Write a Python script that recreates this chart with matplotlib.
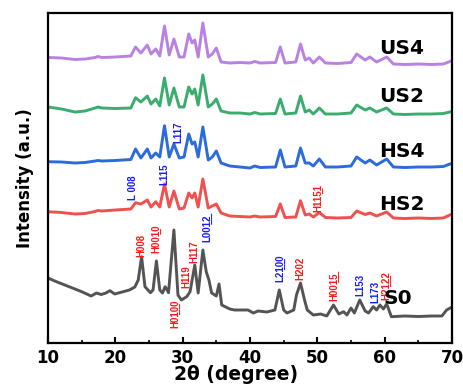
import matplotlib
matplotlib.use("Agg")
import matplotlib.pyplot as plt
from matplotlib.ticker import MultipleLocator

U = "\u0332"  # combining low line (underline of preceding character)

# ---------------- data (2theta in degree, intensity in a.u.) ----------------
theta_us = [10, 12, 14, 15.5, 17, 17.4, 18, 20, 22.3, 23.0, 23.8, 24.75, 25.3, 26.0, 26.6,
            27.3, 28.0, 28.7, 29.5, 30.2, 30.9, 31.4, 31.8, 32.3, 33.0, 33.8, 34.4, 35.0,
            35.7, 37.0, 38.5, 40.0, 40.7, 41.5, 43.8, 44.5, 45.2, 46.8, 47.5, 48.2, 48.8,
            49.4, 50.3, 51.2, 53.0, 55.0, 55.85, 57.1, 57.8, 58.8, 60.3, 61.3, 63.0, 65.0,
            67.0, 68.7, 69.7]

int_us4 = [285.5, 285, 283.5, 284, 285.5, 286.5, 285.5, 286, 287, 296, 290, 298, 289, 294,
           287, 317, 288, 304, 286, 286, 309, 300, 303, 286, 320, 286, 289, 295, 281, 280,
           280.5, 280, 281.5, 280, 280.5, 296, 280, 281, 299, 283, 285, 280, 286, 280,
           279.5, 280.5, 289, 283, 286, 281, 286, 279, 278.5, 279, 278.5, 279, 281.5]

int_us2 = [236, 234, 231, 232, 235, 236, 235, 234.5, 235, 245.3, 241, 247, 239, 244, 237,
           265, 238, 255, 236, 236, 256, 249, 254, 238, 268, 236, 239, 244, 232, 230, 230,
           229, 230.5, 229, 229.5, 244, 229, 230, 247, 231, 233, 229, 235, 229, 229, 230,
           238, 233, 235, 231, 235, 229, 228.5, 229, 229, 229.5, 231]

int_hs4 = [181.3, 181, 180, 180.5, 182, 182.5, 182, 182.5, 183.5, 194, 185, 194, 185, 190,
           186, 217.3, 186, 199, 185, 186, 209, 199, 201, 186, 216, 183, 186, 192, 180, 177,
           176, 175, 177, 175.5, 176, 193, 176, 177, 195, 180, 180, 177, 184, 176, 176, 177,
           186, 180, 183, 178, 184, 176, 175.5, 176, 176, 176.5, 179]

int_hs2 = [131.3, 130.5, 129, 129.5, 131.5, 132.5, 132, 133, 134, 140.3, 139, 143, 136, 141.3,
           136, 159, 136, 152, 134, 135, 150, 145, 150, 136, 164, 135, 137, 139, 130, 127,
           126.5, 126, 127, 126, 126.5, 139, 125.5, 126, 142.3, 128, 129, 126, 130.5, 125.5,
           125, 125.5, 132, 128.5, 130, 127, 131, 125, 124.5, 125, 124.5, 125, 128]

theta_s0 = [10.0, 11.0, 12.5, 14.0, 15.0, 16.4, 17.2, 17.9, 18.6, 19.2, 19.9, 21.0, 22.1, 22.9,
            23.4, 23.9, 24.4, 25.2, 25.6, 26.1, 26.6, 27.0, 27.4, 27.9, 28.7, 29.3, 29.8,
            30.6, 31.1, 31.8, 32.3, 33.0, 33.5, 33.9, 34.3, 35.0, 35.4, 35.8, 37.0, 37.7,
            39.0, 39.7, 40.5, 41.2, 42.5, 43.7, 44.35, 45.0, 45.5, 46.5, 46.9, 47.5, 48.1,
            48.5, 49.4, 50.5, 51.4, 52.4, 53.2, 53.9, 54.4, 55.0, 55.5, 56.3, 57.1, 57.6,
            58.3, 58.8, 59.3, 59.8, 60.3, 61.0, 63.0, 65.0, 67.0, 68.5, 69.2, 70.0]

int_s0 = [65, 62, 58, 54, 51.3, 47, 50, 48.5, 50, 52.3, 49, 51, 53, 56, 63, 86.3, 56.3, 50.3,
          53, 82, 53, 50, 56.3, 50.3, 113, 48, 43, 46.3, 51.3, 78, 50, 93, 71.3, 63, 50, 47,
          59, 38, 34, 33, 33, 33, 30, 32, 31, 33, 53, 33, 30, 33, 48, 60, 43, 33, 28, 29,
          27, 38, 29, 31.3, 28, 35, 30, 43, 32, 30, 36.3, 33, 38, 34, 39, 26.3, 27, 26.5,
          27, 27, 33, 36]

series_names = ["US4", "US2", "HS4", "HS2", "S0"]
series_colors = ["#b57be0", "#2fa866", "#1f63dc", "#f24545", "#4b4b4b"]

# peak labels: (text, 2theta, lower end of label, colour key)
peak_labels = ["L 008", "L115", "L117", "H11" + "5" + U + "1",
               "H008", "H00" + "1" + U + "0", "H0" + "1" + U + "0" + U + "0", "H119", "H117",
               "L00" + "1" + U + "2" + U, "L2" + "1" + U + "0" + U + "0", "H202",
               "H00" + "1" + U + "5" + U, "L153", "L173", "H2" + "1" + U + "2" + U + "2"]
peak_theta = [22.6, 27.3, 29.3, 50.2, 23.9, 26.1, 28.9, 30.5, 31.8, 33.6, 44.45, 47.5,
              52.45, 56.45, 58.55, 60.2]
peak_pos = [143, 158, 200, 131, 86, 90, 15, 55, 80, 101, 61, 63, 42, 47, 40, 43]
peak_kind = ["L", "L", "L", "H", "H", "H", "H", "H", "H", "L", "L", "H", "H", "L", "L", "H"]

name_pos = [289.5, 241, 186, 133, 39]
name_theta = [59.2, 59.2, 59.2, 59.2, 59.8]

# ---------------- figure ----------------
fig = plt.figure(figsize=(4.63, 3.85), dpi=100)
ax = fig.add_axes([48 / 463, 1 - 343 / 385, (452 - 48) / 463, (343 - 13) / 385])

series_y = [int_us4, int_us2, int_hs4, int_hs2, int_s0]
series_x = [theta_us, theta_us, theta_us, theta_us, theta_s0]
for xs, ys, c in zip(series_x, series_y, series_colors):
    ax.plot(xs, ys, color=c, lw=2.1, solid_joinstyle="round", alpha=0.95)

label_colors = {"H": "#ff1a1a", "L": "#1a1aff"}
for t, x, y, k in zip(peak_labels, peak_theta, peak_pos, peak_kind):
    ax.text(x, y, t, rotation=90, ha="center", va="bottom", fontsize=7,
            fontweight="bold", family=["Liberation Sans", "DejaVu Sans"],
            color=label_colors[k])

for n, x, y in zip(series_names, name_theta, name_pos):
    ax.text(x, y, n, ha="left", va="baseline", fontsize=14.5, fontweight="bold",
            color="black")

ax.set_xlim(10, 70)
ax.set_ylim(0, 330)
ax.xaxis.set_major_locator(MultipleLocator(10))
ax.xaxis.set_minor_locator(MultipleLocator(5))
ax.set_yticks([])
ax.tick_params(axis="x", which="major", direction="in", length=4, width=1.5, pad=4,
               labelsize=12)
ax.tick_params(axis="x", which="minor", direction="in", length=2.5, width=1.2)
for lab in ax.get_xticklabels():
    lab.set_fontweight("bold")
for s in ax.spines.values():
    s.set_linewidth(1.6)

ax.set_ylabel("Intensity (a.u.)", fontsize=12, fontweight="bold", labelpad=10)
fig.text(236 / 463, 5 / 385, "2θ (degree)", ha="center", va="baseline", fontsize=13.5,
         fontweight="bold")

fig.savefig("out.png", dpi=100)
